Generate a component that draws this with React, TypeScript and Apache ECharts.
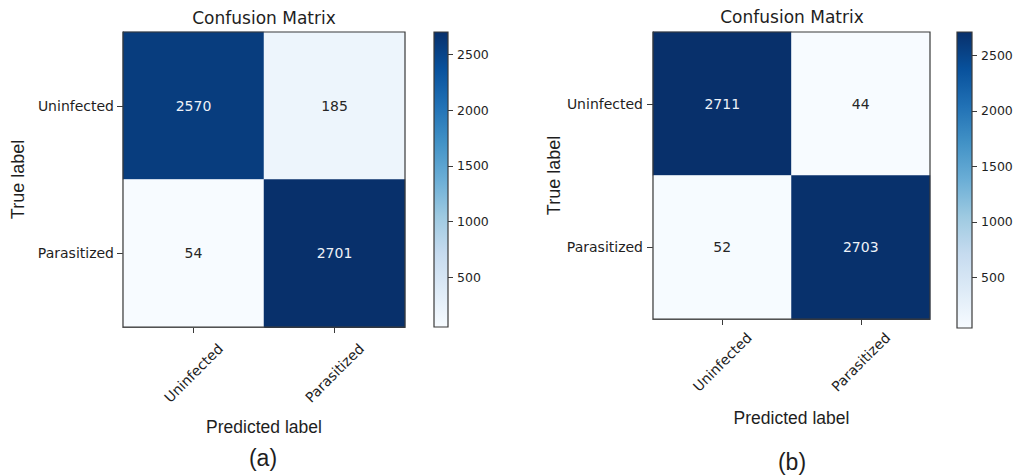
import React, { useEffect, useRef } from "react";
import * as echarts from "echarts";

// Class names shared by both matrices (rows = true label, columns = predicted label)
const categories = ["Uninfected", "Parasitized"];

// Confusion matrix counts, [trueRow][predictedCol]
const matrixA = [
  [2570, 185],
  [54, 2701],
];
const matrixB = [
  [2711, 44],
  [52, 2703],
];

// Colour bar tick values
const colorbarTicks = [500, 1000, 1500, 2000, 2500];

// Matplotlib "Blues" colormap, light to dark
const blues = [
  "#f7fbff",
  "#deebf7",
  "#c6dbef",
  "#9ecae1",
  "#6baed6",
  "#4292c6",
  "#2171b5",
  "#08519c",
  "#08306b",
];

const TICK_FONT = "DejaVu Sans";
const NAME_FONT = "Liberation Sans";
const TEXT = "#1e1e1e";

function flatten(m: number[][]) {
  const out: number[] = [];
  m.forEach((r) => r.forEach((v) => out.push(v)));
  return out;
}

function heatData(m: number[][]) {
  const vals = flatten(m);
  const hi = Math.max(...vals);
  const lo = Math.min(...vals);
  const thresh = (hi + lo) / 2;
  const data: any[] = [];
  m.forEach((row, r) =>
    row.forEach((v, c) => {
      data.push({
        value: [c, r, v],
        label: { color: v > thresh ? "#eef2f8" : "#262626" },
      });
    })
  );
  return { data, lo, hi };
}

const gradientStops = blues
  .slice()
  .reverse()
  .map((c, i, a) => ({ offset: i / (a.length - 1), color: c }));

export default function App() {
  const ref = useRef<HTMLDivElement>(null);

  useEffect(() => {
    document.body.style.margin = "0";
    if (!ref.current) return;
    const chart = echarts.init(ref.current, undefined, { renderer: "svg" });

    const A = heatData(matrixA);
    const B = heatData(matrixB);

    const grids = [
      { left: 123, top: 32, width: 282, height: 295 },
      { left: 434, top: 32, width: 14, height: 295 },
      { left: 653, top: 32, width: 277, height: 287 },
      { left: 957, top: 32, width: 15, height: 296 },
    ].map((g) => ({
      ...g,
      show: true,
      z: 5,
      backgroundColor: "transparent",
      borderColor: "#3a3a3a",
      borderWidth: 1.2,
    }));

    const matrixX = (gridIndex: number, margin: number, nameGap: number) => ({
      type: "category",
      gridIndex,
      data: categories,
      axisLine: { show: true, lineStyle: { color: "#3a3a3a", width: 1.2 } },
      axisTick: { show: true, alignWithLabel: true, length: 6, lineStyle: { color: "#3a3a3a" } },
      axisLabel: {
        rotate: 45,
        align: "center",
        verticalAlign: "middle",
        margin,
        fontFamily: TICK_FONT,
        fontSize: 14,
        color: TEXT,
      },
      splitLine: { show: false },
      name: "Predicted label",
      nameLocation: "middle",
      nameGap,
      nameTextStyle: { fontFamily: NAME_FONT, fontSize: 17.5, color: TEXT },
    });

    const matrixY = (gridIndex: number, margin: number, nameGap: number) => ({
      type: "category",
      gridIndex,
      data: categories,
      inverse: true,
      axisLine: { show: true, lineStyle: { color: "#3a3a3a", width: 1.2 } },
      axisTick: { show: true, alignWithLabel: true, length: 6, lineStyle: { color: "#3a3a3a" } },
      axisLabel: { margin, fontFamily: TICK_FONT, fontSize: 14, color: TEXT },
      splitLine: { show: false },
      name: "True label",
      nameLocation: "middle",
      nameGap,
      nameTextStyle: { fontFamily: NAME_FONT, fontSize: 18, color: TEXT },
    });

    const barX = (gridIndex: number) => ({
      type: "category",
      gridIndex,
      data: [""],
      show: false,
    });

    const barY = (gridIndex: number, lo: number, hi: number) => ({
      type: "value",
      gridIndex,
      position: "right",
      min: lo,
      max: hi,
      axisLine: { show: false },
      splitLine: { show: false },
      axisTick: {
        show: true,
        length: 5,
        customValues: colorbarTicks,
        lineStyle: { color: "#3a3a3a" },
      },
      axisLabel: {
        customValues: colorbarTicks,
        formatter: (v: number) => String(v),
        margin: 9,
        fontFamily: TICK_FONT,
        fontSize: 12.5,
        color: TEXT,
      },
    });

    const heatSeries = (xi: number, data: any[]) => ({
      type: "heatmap",
      xAxisIndex: xi,
      yAxisIndex: xi,
      data,
      label: {
        show: true,
        fontFamily: TICK_FONT,
        fontSize: 14,
        formatter: (p: any) => String(p.value[2]),
      },
      itemStyle: { borderWidth: 0 },
      emphasis: { disabled: true },
    });

    const barSeries = (xi: number, lo: number, hi: number) => ({
      type: "custom",
      xAxisIndex: xi,
      yAxisIndex: xi,
      data: [[0, lo, hi]],
      renderItem: (params: any, api: any) => {
        const cs = params.coordSys;
        const top = api.coord([0, api.value(2)])[1];
        const bottom = api.coord([0, api.value(1)])[1];
        return {
          type: "rect",
          shape: { x: cs.x, y: top, width: cs.width, height: bottom - top },
          style: {
            fill: new echarts.graphic.LinearGradient(0, 0, 0, 1, gradientStops),
          },
        };
      },
    });

    const caption = (text: string, x: number, y: number, font: string, size: number) => ({
      type: "text",
      x,
      y,
      style: {
        text,
        fontFamily: font,
        fontSize: size,
        fill: TEXT,
        align: "center",
        verticalAlign: "middle",
      },
    });

    chart.setOption({
      animation: false,
      backgroundColor: "#ffffff",
      grid: grids,
      xAxis: [matrixX(0, 46, 91), barX(1), matrixX(2, 43, 90), barX(3)],
      yAxis: [
        matrixY(0, 9, 96),
        barY(1, A.lo, A.hi),
        matrixY(2, 10, 89),
        barY(3, B.lo, B.hi),
      ],
      visualMap: [
        {
          type: "continuous",
          show: false,
          seriesIndex: 0,
          dimension: 2,
          min: A.lo,
          max: A.hi,
          inRange: { color: blues },
        },
        {
          type: "continuous",
          show: false,
          seriesIndex: 2,
          dimension: 2,
          min: B.lo,
          max: B.hi,
          inRange: { color: blues },
        },
      ],
      series: [
        heatSeries(0, A.data),
        barSeries(1, A.lo, A.hi),
        heatSeries(2, B.data),
        barSeries(3, B.lo, B.hi),
      ],
      graphic: [
        caption("Confusion Matrix", 264, 18, TICK_FONT, 17),
        caption("Confusion Matrix", 792, 17, TICK_FONT, 17),
        caption("(a)", 263, 458, NAME_FONT, 23),
        caption("(b)", 792, 462, NAME_FONT, 23),
      ],
    });

    return () => chart.dispose();
  }, []);

  return <div ref={ref} style={{ width: 1021, height: 476 }} />;
}
